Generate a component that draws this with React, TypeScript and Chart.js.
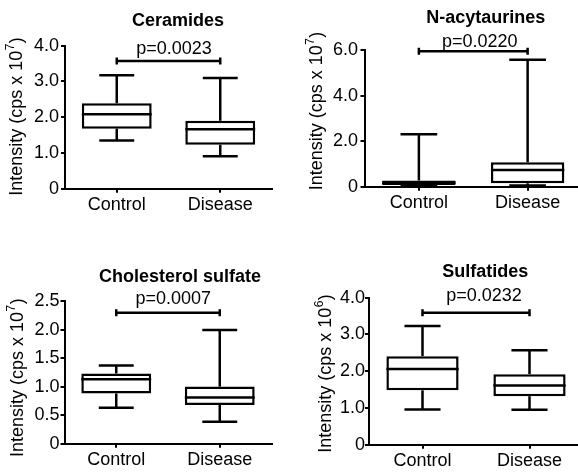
import React, { useEffect, useRef } from 'react';
import { Chart, registerables } from 'chart.js';

Chart.register(...registerables);

const FONT = '"Liberation Sans", Arial, Helvetica, sans-serif';
Chart.defaults.font.family = FONT;
Chart.defaults.color = '#000';

// ---------- data ----------
const categories = ['Control', 'Disease'];

// Ceramides (cps x 10^7)
const ceramidesMin = [1.35, 0.91];
const ceramidesQ1 = [1.68, 1.23];
const ceramidesMedian = [2.08, 1.66];
const ceramidesQ3 = [2.39, 1.9];
const ceramidesMax = [3.17, 3.1];

// N-acytaurines (cps x 10^7)
const taurinesMin = [0.02, 0.05];
const taurinesQ1 = [0.08, 0.15];
const taurinesMedian = [0.17, 0.73];
const taurinesQ3 = [0.27, 1.07];
const taurinesMax = [2.3, 5.57];

// Cholesterol sulfate (cps x 10^7)
const cholesterolMin = [0.63, 0.385];
const cholesterolQ1 = [0.88, 0.68];
const cholesterolMedian = [1.13, 0.81];
const cholesterolQ3 = [1.23, 1.0];
const cholesterolMax = [1.37, 1.99];

// Sulfatides (cps x 10^6)
const sulfatidesMin = [0.96, 0.95];
const sulfatidesQ1 = [1.48, 1.32];
const sulfatidesMedian = [2.06, 1.61];
const sulfatidesQ3 = [2.41, 1.92];
const sulfatidesMax = [3.23, 2.57];

const panelTitles = ['Ceramides', 'N-acytaurines', 'Cholesterol sulfate', 'Sulfatides'];
const pValueLabels = ['p=0.0023', 'p=0.0220', 'p=0.0007', 'p=0.0232'];
const bracketLevels = [3.57, 5.95, 2.295, 3.59];
const yMaxValues = [4, 6, 2.5, 4];
const yStepValues = [1, 2, 0.5, 1];
const yExponents = ['7', '7', '7', '6'];

const panelData = [
  { min: ceramidesMin, q1: ceramidesQ1, median: ceramidesMedian, q3: ceramidesQ3, max: ceramidesMax },
  { min: taurinesMin, q1: taurinesQ1, median: taurinesMedian, q3: taurinesQ3, max: taurinesMax },
  { min: cholesterolMin, q1: cholesterolQ1, median: cholesterolMedian, q3: cholesterolQ3, max: cholesterolMax },
  { min: sulfatidesMin, q1: sulfatidesQ1, median: sulfatidesMedian, q3: sulfatidesQ3, max: sulfatidesMax },
];

// ---------- layout (absolute page coordinates) ----------
const layouts = [
  { canvas: { left: 0, top: 0, width: 289, height: 236 }, area: { left: 65, right: 272, top: 45.7, bottom: 188.7 }, title: [178, 26], p: [174, 53.5], yTitle: [17, 116.5], tickPad: 2 },
  { canvas: { left: 289, top: 0, width: 300, height: 236 }, area: { left: 364.5, right: 582, top: 50, bottom: 186.7 }, title: [485.7, 23], p: [479.8, 46.5], yTitle: [317, 111], tickPad: 2.5 },
  { canvas: { left: 0, top: 236, width: 289, height: 237 }, area: { left: 64.5, right: 271.5, top: 301, bottom: 443.7 }, title: [180, 282], p: [173.3, 304.3], yTitle: [18, 377.7], tickPad: 1 },
  { canvas: { left: 289, top: 236, width: 300, height: 237 }, area: { left: 369, right: 583, top: 297.7, bottom: 444.7 }, title: [485.3, 277], p: [484, 301.3], yTitle: [325.7, 373.5], tickPad: 0 },
];

const MARK_WIDTH = 2.5;

const boxExtras = {
  id: 'boxExtras',
  afterDatasetsDraw(chart: any, _args: any, opts: any) {
    const { ctx } = chart;
    const y = chart.scales.y;
    const meta = chart.getDatasetMeta(0);
    const d = opts.data;
    ctx.save();
    ctx.strokeStyle = '#000';
    ctx.lineWidth = MARK_WIDTH;
    ctx.lineCap = 'butt';
    const line = (x1: number, y1: number, x2: number, y2: number) => {
      ctx.beginPath();
      ctx.moveTo(x1, y1);
      ctx.lineTo(x2, y2);
      ctx.stroke();
    };
    meta.data.forEach((bar: any, i: number) => {
      const cx = bar.x;
      const w = bar.width;
      const yMax = y.getPixelForValue(d.max[i]);
      const yQ3 = y.getPixelForValue(d.q3[i]);
      const yMed = y.getPixelForValue(d.median[i]);
      const yQ1 = y.getPixelForValue(d.q1[i]);
      const yMin = y.getPixelForValue(d.min[i]);
      line(cx, yQ3, cx, yMax);
      line(cx - w / 4, yMax, cx + w / 4, yMax);
      line(cx, yQ1, cx, yMin);
      line(cx - w / 4, yMin, cx + w / 4, yMin);
      line(cx - w / 2, yMed, cx + w / 2, yMed);
    });
    ctx.restore();
  },
  afterDraw(chart: any, _args: any, opts: any) {
    const { ctx } = chart;
    const x = chart.scales.x;
    const y = chart.scales.y;
    ctx.save();
    // significance bracket
    const by = y.getPixelForValue(opts.bracket);
    const x1 = x.getPixelForValue(0);
    const x2 = x.getPixelForValue(1);
    ctx.strokeStyle = '#000';
    ctx.lineWidth = 2.5;
    ctx.beginPath();
    ctx.moveTo(x1, by);
    ctx.lineTo(x2, by);
    ctx.moveTo(x1, by - 3.5);
    ctx.lineTo(x1, by + 3.5);
    ctx.moveTo(x2, by - 3.5);
    ctx.lineTo(x2, by + 3.5);
    ctx.stroke();
    // texts
    ctx.fillStyle = '#000';
    ctx.textAlign = 'center';
    ctx.textBaseline = 'alphabetic';
    ctx.font = `bold 18px ${FONT}`;
    ctx.fillText(opts.title, opts.titleX, opts.titleY);
    ctx.font = `18px ${FONT}`;
    ctx.fillText(opts.pText, opts.pX, opts.pY);
    // rotated y-axis title with superscript
    ctx.translate(opts.yTitleX, opts.yTitleY);
    ctx.rotate(-Math.PI / 2);
    ctx.textAlign = 'left';
    ctx.textBaseline = 'middle';
    const main = 'Intensity (cps x 10';
    const big = `18px ${FONT}`;
    const small = `12px ${FONT}`;
    ctx.font = big;
    const w1 = ctx.measureText(main).width;
    const w3 = ctx.measureText(')').width;
    ctx.font = small;
    const w2 = ctx.measureText(opts.exp).width;
    const x0 = -(w1 + w2 + w3 + 1) / 2;
    ctx.font = big;
    ctx.fillText(main, x0, 0);
    ctx.font = small;
    ctx.fillText(opts.exp, x0 + w1 + 0.5, -6);
    ctx.font = big;
    ctx.fillText(')', x0 + w1 + w2 + 1, 0);
    ctx.restore();
  },
};

function Panel({ index }: { index: number }) {
  const ref = useRef<HTMLCanvasElement | null>(null);
  const L = layouts[index];
  useEffect(() => {
    if (!ref.current) return;
    const d = panelData[index];
    const c = L.canvas;
    const a = L.area;
    const chart = new Chart(ref.current, {
      type: 'bar',
      data: {
        labels: categories,
        datasets: [
          {
            data: categories.map((_, i) => [d.q1[i], d.q3[i]]) as any,
            backgroundColor: '#fff',
            borderColor: '#000',
            borderWidth: MARK_WIDTH,
            borderSkipped: false,
            barPercentage: 0.675,
            categoryPercentage: 1,
          },
        ],
      },
      options: {
        responsive: false,
        maintainAspectRatio: false,
        animation: false,
        devicePixelRatio: 1,
        layout: {
          padding: {
            left: 0,
            top: a.top - c.top,
            right: c.left + c.width - a.right,
            bottom: 0,
          },
        },
        plugins: {
          legend: { display: false },
          tooltip: { enabled: false },
          title: { display: false },
          boxExtras: {
            data: d,
            bracket: bracketLevels[index],
            title: panelTitles[index],
            titleX: L.title[0] - c.left,
            titleY: L.title[1] - c.top,
            pText: pValueLabels[index],
            pX: L.p[0] - c.left,
            pY: L.p[1] - c.top,
            yTitleX: L.yTitle[0] - c.left,
            yTitleY: L.yTitle[1] - c.top,
            exp: yExponents[index],
          },
        } as any,
        scales: {
          x: {
            type: 'category',
            offset: true,
            grid: {
              offset: false,
              drawOnChartArea: false,
              drawTicks: true,
              tickLength: 4,
              color: '#000',
              lineWidth: 2,
            },
            border: { display: true, color: '#000', width: 2 },
            ticks: {
              font: { size: 18, family: FONT },
              color: '#000',
              padding: 1.5,
              maxRotation: 0,
              autoSkip: false,
            },
            afterFit: (scale: any) => {
              scale.height = c.top + c.height - a.bottom;
            },
          },
          y: {
            type: 'linear',
            min: 0,
            max: yMaxValues[index],
            grid: {
              drawOnChartArea: false,
              drawTicks: true,
              tickLength: 4,
              color: '#000',
              lineWidth: 2,
            },
            border: { display: true, color: '#000', width: 2 },
            ticks: {
              stepSize: yStepValues[index],
              font: { size: 18, family: FONT },
              color: '#000',
              padding: L.tickPad,
              callback: (v: any) => (Number(v) === 0 ? '0' : Number(v).toFixed(1)),
            },
            afterFit: (scale: any) => {
              scale.width = a.left - c.left;
            },
          },
        },
      } as any,
      plugins: [boxExtras as any],
    });
    return () => chart.destroy();
  }, [index]);
  return (
    <canvas
      ref={ref}
      width={L.canvas.width}
      height={L.canvas.height}
      style={{
        position: 'absolute',
        left: L.canvas.left,
        top: L.canvas.top,
        width: L.canvas.width,
        height: L.canvas.height,
      }}
    />
  );
}

export default function App() {
  return (
    <div
      style={{
        position: 'absolute',
        left: 0,
        top: 0,
        width: 578,
        height: 473,
        overflow: 'hidden',
        background: '#fff',
      }}
    >
      {[0, 1, 2, 3].map((i) => (
        <Panel key={i} index={i} />
      ))}
    </div>
  );
}
